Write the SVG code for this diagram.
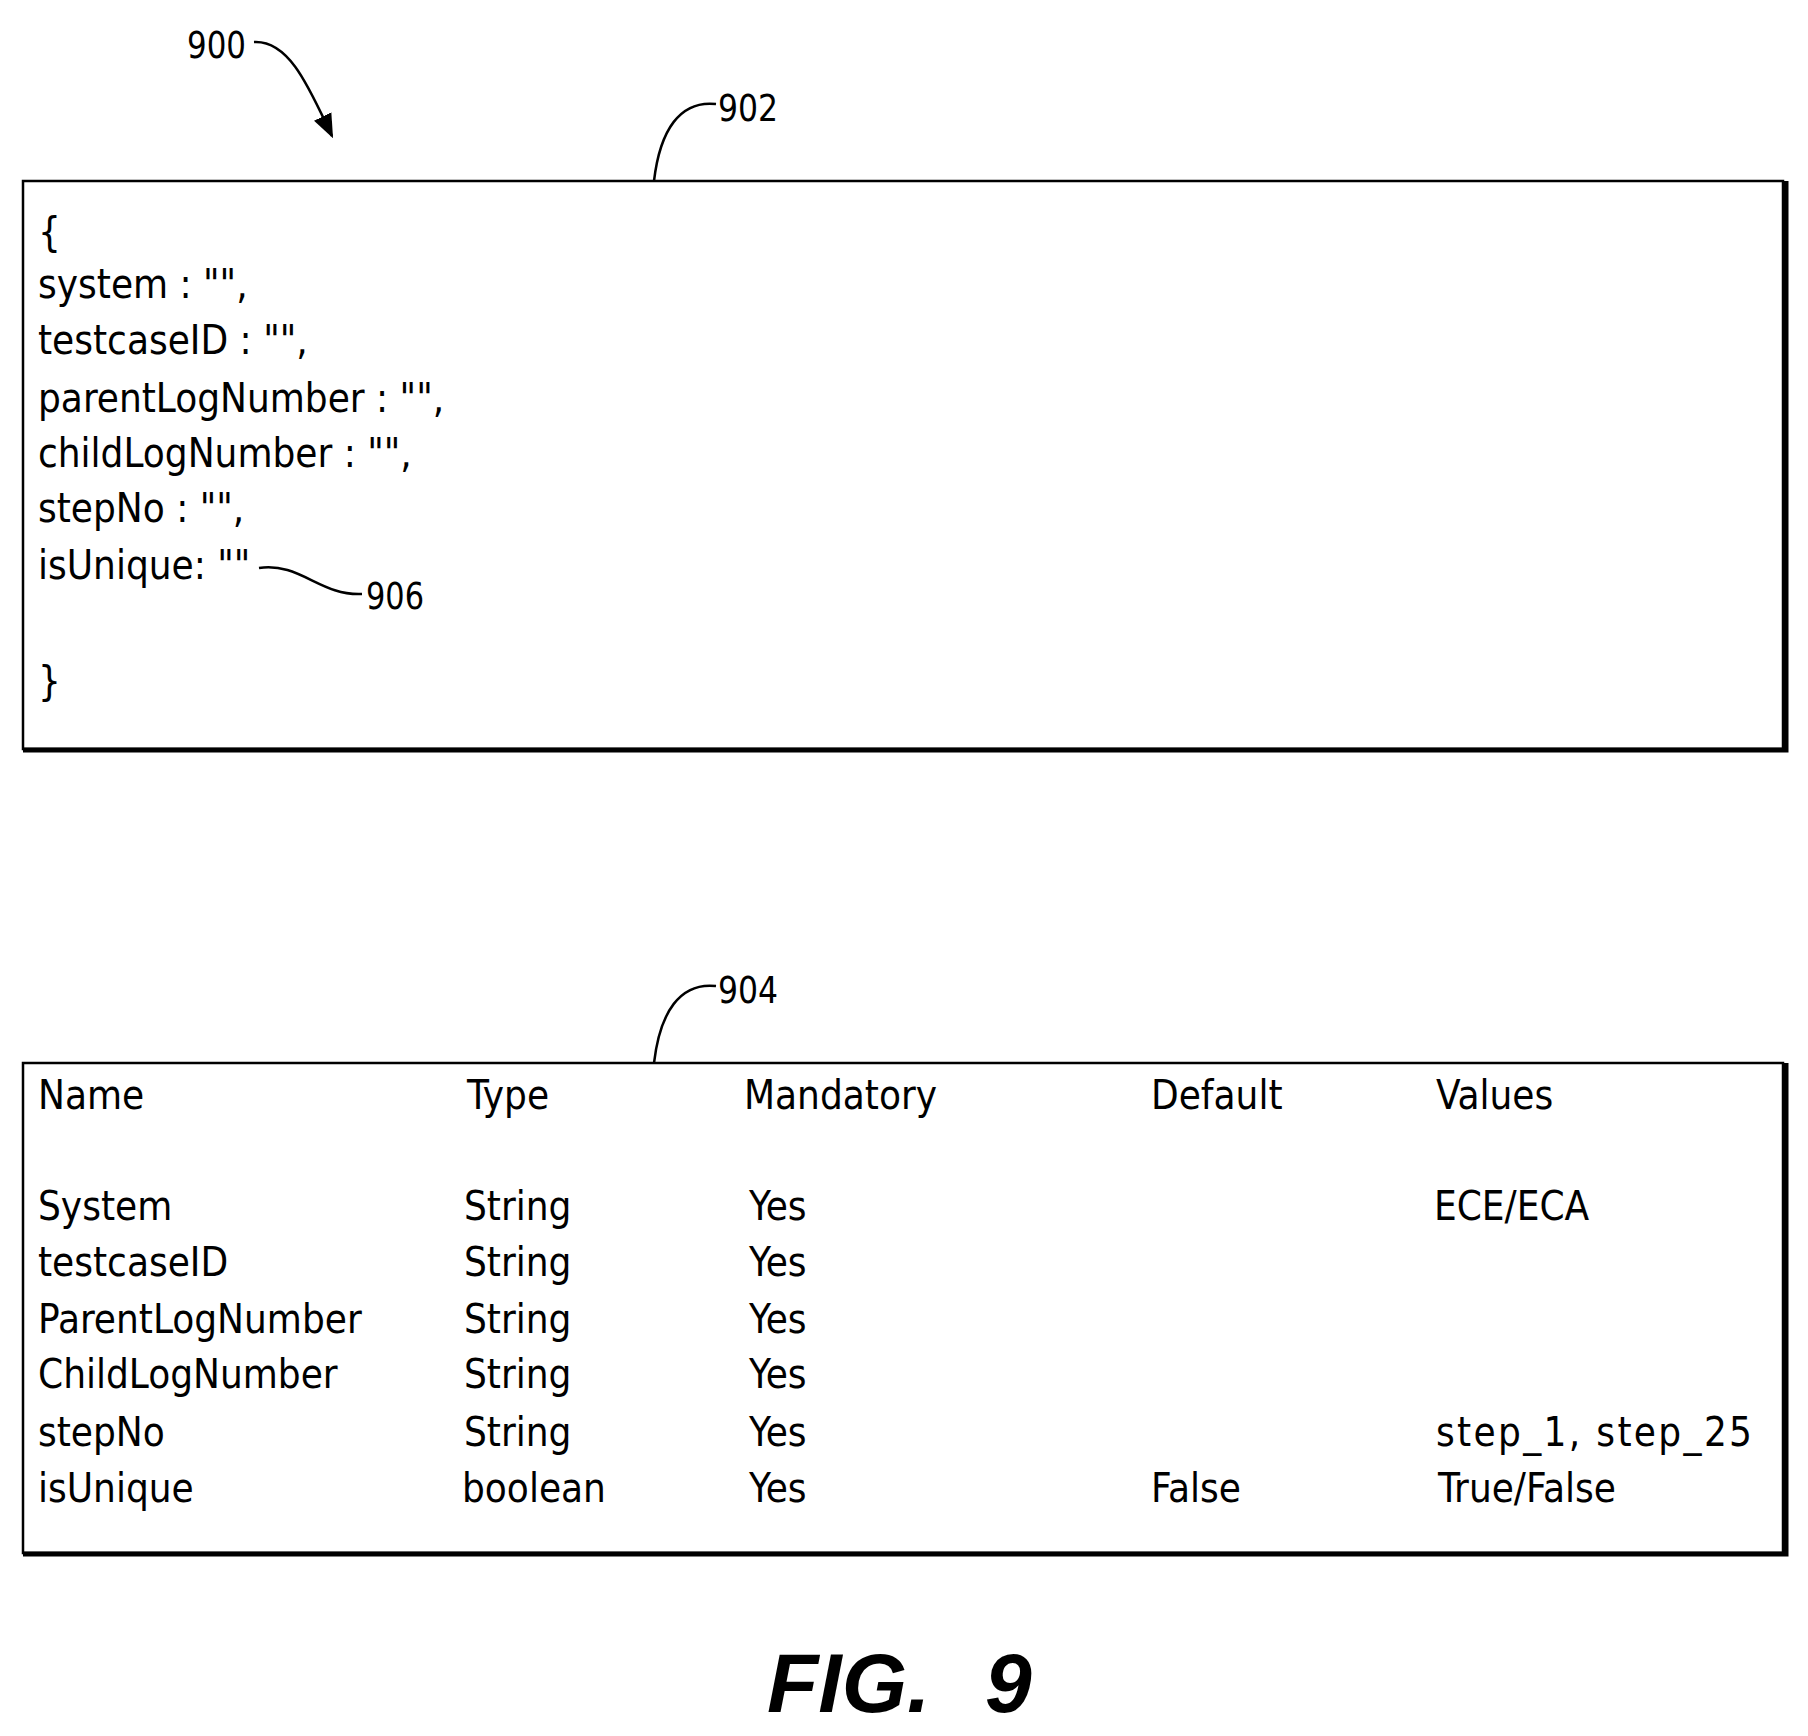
<svg xmlns="http://www.w3.org/2000/svg" width="1808" height="1736" viewBox="0 0 1808 1736">
<style>
text{font-family:"DejaVu Sans Condensed","Liberation Sans",sans-serif;fill:#000}
.c{font-size:40px}
.t{font-size:40px}
.ref{font-size:38px}
.ln{fill:none;stroke:#000;stroke-width:2.5}
.fig{font-family:"Liberation Sans",sans-serif;font-size:84px;font-weight:bold;font-style:italic}
</style>
<defs>
<marker id="ah2" viewBox="0 0 10 10" refX="9" refY="5" markerWidth="24" markerHeight="24" orient="auto" markerUnits="userSpaceOnUse"><path d="M0,1 L10,5 L0,9 z"/></marker></defs>
<rect width="1808" height="1736" fill="#fff"/>
<g id="connectors">
<path class="ln" d="M254,42 C290,40 310,90 332,136" marker-end="url(#ah2)"/>
<path class="ln" d="M716,104 C680,100 660,130 654,181"/>
<path class="ln" d="M716,986 C680,982 660,1012 654,1063"/>
<path class="ln" d="M259,568 C300,562 320,596 362,594"/>
</g>
<g id="n900"><text class="ref" x="187" y="58" textLength="59" lengthAdjust="spacingAndGlyphs">900</text></g>
<g id="n902">
<rect x="23" y="181" width="1760" height="568" fill="none" stroke="#000" stroke-width="2.5"/>
<path d="M23,750 H1786 V181" fill="none" stroke="#000" stroke-width="5"/>
<text class="ref" x="718" y="121" textLength="60" lengthAdjust="spacingAndGlyphs">902</text>
<text class="c" x="38" y="246">{</text>
<text class="c" x="38" y="298">system :  "",</text>
<text class="c" x="38" y="354">testcaseID :  "",</text>
<text class="c" x="38" y="412">parentLogNumber :  "",</text>
<text class="c" x="38" y="467">childLogNumber :  "",</text>
<text class="c" x="38" y="522">stepNo :  "",</text>
<text class="c" x="38" y="579">isUnique:   ""</text>
<text class="c" x="38" y="695">}</text>
</g>
<g id="n906"><text class="ref" x="366" y="609" textLength="58" lengthAdjust="spacingAndGlyphs">906</text></g>
<g id="n904">
<rect x="23" y="1063" width="1760" height="490" fill="none" stroke="#000" stroke-width="2.5"/>
<path d="M23,1554 H1786 V1063" fill="none" stroke="#000" stroke-width="5"/>
<text class="ref" x="718" y="1003" textLength="60" lengthAdjust="spacingAndGlyphs">904</text>
<g class="t">
<text x="38" y="1109">Name</text><text x="467" y="1109">Type</text><text x="744" y="1109">Mandatory</text><text x="1151" y="1109">Default</text><text x="1436" y="1109">Values</text>
<text x="38" y="1220">System</text><text x="464" y="1220">String</text><text x="749" y="1220">Yes</text><text x="1434" y="1220">ECE/ECA</text>
<text x="38" y="1276">testcaseID</text><text x="464" y="1276">String</text><text x="749" y="1276">Yes</text>
<text x="38" y="1333">ParentLogNumber</text><text x="464" y="1333">String</text><text x="749" y="1333">Yes</text>
<text x="38" y="1388">ChildLogNumber</text><text x="464" y="1388">String</text><text x="749" y="1388">Yes</text>
<text x="38" y="1446">stepNo</text><text x="464" y="1446">String</text><text x="749" y="1446">Yes</text><text x="1436" y="1446" textLength="316" lengthAdjust="spacing">step_1, step_25</text>
<text x="38" y="1502">isUnique</text><text x="462" y="1502">boolean</text><text x="749" y="1502">Yes</text><text x="1151" y="1502">False</text><text x="1438" y="1502">True/False</text>
</g>
</g>
<text class="fig" x="767" y="1712">FIG.<tspan x="985">9</tspan></text>
</svg>
